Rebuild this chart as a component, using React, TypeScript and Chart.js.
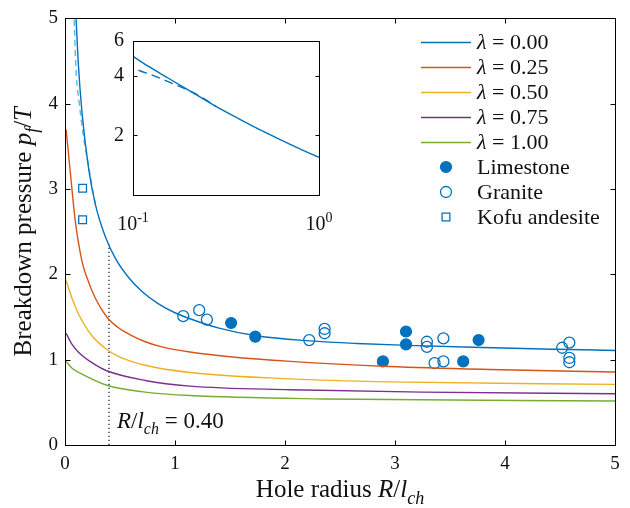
import React, { useEffect, useRef } from 'react';
import { Chart, registerables } from 'chart.js';
Chart.register(...registerables);

const FONT = "'Liberation Serif', 'DejaVu Serif', serif";

// ---- model curves ----
const xL000 = [0.1, 0.12, 0.155, 0.215, 0.276, 0.367, 0.457, 0.58, 0.7, 0.85, 1.0, 1.136, 1.4, 1.74, 2.23, 2.65, 3.11, 3.71, 4.47, 5.0];
const yL000 = [5.02, 4.49, 3.89, 3.24, 2.82, 2.44, 2.19, 1.96, 1.8, 1.655, 1.55, 1.48, 1.37, 1.28, 1.22, 1.19, 1.168, 1.145, 1.122, 1.108];
const xL025 = [0.01, 0.048, 0.094, 0.155, 0.2, 0.276, 0.38, 0.48, 0.58, 0.73, 0.88, 1.136, 1.5, 2.05, 2.95, 3.86, 5.0];
const yL025 = [3.7, 3.2, 2.62, 2.15, 1.96, 1.72, 1.5, 1.38, 1.3, 1.21, 1.15, 1.09, 1.035, 0.98, 0.92, 0.885, 0.855];
const xL050 = [0.01, 0.064, 0.125, 0.245, 0.38, 0.5, 0.73, 1.136, 2.05, 2.95, 5.0];
const yL050 = [1.93, 1.72, 1.53, 1.28, 1.12, 1.03, 0.935, 0.85, 0.775, 0.74, 0.71];
const xL075 = [0.01, 0.064, 0.125, 0.245, 0.38, 0.73, 1.136, 2.05, 3.25, 5.0];
const yL075 = [1.31, 1.18, 1.085, 0.965, 0.87, 0.756, 0.69, 0.648, 0.62, 0.6];
const xL100 = [0.01, 0.064, 0.155, 0.38, 0.73, 1.136, 2.35, 5.0];
const yL100 = [0.98, 0.9, 0.83, 0.7, 0.62, 0.58, 0.54, 0.515];
// dashed approximation near small radii
const xDash = [0.08, 0.1, 0.13, 0.17, 0.21, 0.25, 0.28];
const yDash = [5.1, 4.4, 4.0, 3.6, 3.3, 3.0, 2.8];

// ---- experiments ----
const xLime = [1.51, 1.73, 2.89, 3.1, 3.1, 3.62, 3.76];
const yLime = [1.43, 1.27, 0.98, 1.33, 1.18, 0.98, 1.23];
const xGran = [1.075, 1.22, 1.29, 2.22, 2.36, 2.36, 3.29, 3.29, 3.44, 3.36, 3.44, 4.52, 4.585, 4.585, 4.585];
const yGran = [1.51, 1.58, 1.47, 1.23, 1.36, 1.31, 1.21, 1.15, 1.25, 0.96, 0.98, 1.14, 1.2, 1.02, 0.97];
const xKofu = [0.16, 0.16];
const yKofu = [3.01, 2.64];

// critical radius marker
const xCrit = [0.4, 0.4];
const yCrit = [0, 2.35];

const curveLabels = ['0.00', '0.25', '0.50', '0.75', '1.00'];
const curveColors = ['#0072BD', '#D95319', '#EDB120', '#7E2F8E', '#77AC30'];
const markerLabels = ['Limestone', 'Granite', 'Kofu andesite'];
const xTicks = [0, 1, 2, 3, 4, 5];
const yTicks = [0, 1, 2, 3, 4, 5];
const insetYTicks = [2, 4, 6];
const insetXTicks = [0.1, 1];

const pts = (xs: number[], ys: number[]) => xs.map((x, i) => ({ x, y: ys[i] }));

type Run = { t: string; it?: boolean; sub?: boolean; sup?: boolean };
const fontFor = (r: Run, size: number) =>
  `${r.it ? 'italic ' : ''}${r.sub || r.sup ? Math.round(size * 0.7) : size}px ${FONT}`;
function drawRuns(ctx: CanvasRenderingContext2D, runs: Run[], x: number, y: number, size: number, align: 'left' | 'center' | 'right') {
  const widths = runs.map((r) => { ctx.font = fontFor(r, size); return ctx.measureText(r.t).width; });
  const total = widths.reduce((a, b) => a + b, 0);
  let cx = align === 'left' ? x : align === 'center' ? x - total / 2 : x - total;
  ctx.textAlign = 'left';
  ctx.textBaseline = 'alphabetic';
  runs.forEach((r, i) => {
    ctx.font = fontFor(r, size);
    const dy = r.sub ? size * 0.28 : r.sup ? -size * 0.42 : 0;
    ctx.fillText(r.t, cx, y + dy);
    cx += widths[i];
  });
}

const xTitle: Run[] = [{ t: 'Hole radius ' }, { t: 'R', it: true }, { t: '/' }, { t: 'l', it: true }, { t: 'ch', it: true, sub: true }];
const yTitle: Run[] = [{ t: 'Breakdown pressure ' }, { t: 'p', it: true }, { t: 'f', it: true, sub: true }, { t: '/' }, { t: 'T', it: true }];
const critText: Run[] = [{ t: 'R', it: true }, { t: '/' }, { t: 'l', it: true }, { t: 'ch', it: true, sub: true }, { t: ' = 0.40' }];

const mainDecor = {
  id: 'mainDecor',
  afterDraw(chart: any) {
    const { ctx, chartArea: a, scales } = chart;
    const xs = scales.x, ys = scales.y;
    ctx.save();
    ctx.strokeStyle = '#000';
    ctx.lineWidth = 1;
    const L = Math.round(a.left) + 0.5, R = Math.round(a.right) + 0.5, T = Math.round(a.top) + 0.5, B = Math.round(a.bottom) + 0.5;
    ctx.strokeRect(L, T, R - L, B - T);
    ctx.beginPath();
    xs.ticks.forEach((t: any) => {
      const p = Math.round(xs.getPixelForValue(t.value)) + 0.5;
      ctx.moveTo(p, B); ctx.lineTo(p, B - 5);
      ctx.moveTo(p, T); ctx.lineTo(p, T + 5);
    });
    ys.ticks.forEach((t: any) => {
      const p = Math.round(ys.getPixelForValue(t.value)) + 0.5;
      ctx.moveTo(L, p); ctx.lineTo(L + 5, p);
      ctx.moveTo(R, p); ctx.lineTo(R - 5, p);
    });
    ctx.stroke();
    ctx.fillStyle = '#111';
    drawRuns(ctx, xTitle, (a.left + a.right) / 2, 497, 25, 'center');
    drawRuns(ctx, critText, 117, 428, 23, 'left');
    ctx.save();
    ctx.translate(31, (a.top + a.bottom) / 2);
    ctx.rotate(-Math.PI / 2);
    drawRuns(ctx, yTitle, 0, 0, 25, 'center');
    ctx.restore();
    // legend
    const lx0 = 421, lx1 = 471, mx = 446, tx = 477;
    let ly = 42;
    chart.data.datasets.forEach((ds: any) => {
      if (!ds.inLegend) return;
      if (ds.showLine) {
        ctx.strokeStyle = ds.borderColor;
        ctx.lineWidth = ds.borderWidth;
        ctx.beginPath(); ctx.moveTo(lx0, ly + 0.5); ctx.lineTo(lx1, ly + 0.5); ctx.stroke();
        ctx.fillStyle = '#111';
        drawRuns(ctx, [{ t: 'λ', it: true }, { t: ds.label.slice(1) }], tx, ly + 7, 22, 'left');
      } else {
        ctx.strokeStyle = ds.borderColor;
        ctx.fillStyle = ds.backgroundColor;
        ctx.lineWidth = ds.borderWidth;
        ctx.beginPath();
        if (ds.pointStyle === 'rect') {
          const s = Math.SQRT1_2 * ds.pointRadius;
          ctx.rect(mx - s, ly - s, 2 * s, 2 * s);
        } else {
          ctx.arc(mx, ly, ds.pointRadius, 0, Math.PI * 2);
        }
        ctx.fill(); ctx.stroke();
        ctx.fillStyle = '#111';
        drawRuns(ctx, [{ t: ds.label }], tx, ly + 7, 22, 'left');
      }
      ly += 25;
    });
    ctx.restore();
  },
};

const insetDecor = {
  id: 'insetDecor',
  beforeDatasetsDraw(chart: any) {
    const { ctx, chartArea: a } = chart;
    ctx.save();
    ctx.fillStyle = '#fff';
    ctx.fillRect(a.left, a.top, a.right - a.left, a.bottom - a.top);
    ctx.restore();
  },
  afterDraw(chart: any) {
    const { ctx, chartArea: a, scales } = chart;
    const xs = scales.x, ys = scales.y;
    ctx.save();
    ctx.strokeStyle = '#000';
    ctx.lineWidth = 1;
    const L = Math.round(a.left) + 0.5, R = Math.round(a.right) + 0.5, T = Math.round(a.top) + 0.5, B = Math.round(a.bottom) + 0.5;
    ctx.strokeRect(L, T, R - L, B - T);
    ctx.beginPath();
    ys.ticks.forEach((t: any) => {
      const p = Math.round(ys.getPixelForValue(t.value)) + 0.5;
      ctx.moveTo(L, p); ctx.lineTo(L + 4, p);
      ctx.moveTo(R, p); ctx.lineTo(R - 4, p);
    });
    ctx.stroke();
    ctx.fillStyle = '#111';
    xs.ticks.forEach((t: any) => {
      const p = xs.getPixelForValue(t.value);
      const e = Math.round(Math.log10(t.value));
      drawRuns(ctx, [{ t: '10' }, { t: String(e), sup: true }], p, a.bottom + 35, 20, 'center');
    });
    ctx.restore();
  },
};

export default function App() {
  const mainRef = useRef<HTMLCanvasElement>(null);
  const insetRef = useRef<HTMLCanvasElement>(null);
  useEffect(() => {
    const xsC = [xL000, xL025, xL050, xL075, xL100];
    const ysC = [yL000, yL025, yL050, yL075, yL100];
    const curveSets = curveLabels.map((lab, i) => ({
      label: 'λ = ' + lab,
      data: pts(xsC[i], ysC[i]),
      showLine: true,
      borderColor: curveColors[i],
      backgroundColor: curveColors[i],
      borderWidth: 1.4,
      pointRadius: 0,
      cubicInterpolationMode: 'monotone',
      inLegend: true,
    }));
    const main = new Chart(mainRef.current!, {
      type: 'scatter',
      data: {
        datasets: [
          ...curveSets,
          { label: 'dash', data: pts(xDash, yDash), showLine: true, borderColor: '#4DBEEE', borderWidth: 1.4, borderDash: [6, 4], pointRadius: 0, cubicInterpolationMode: 'monotone' },
          { label: 'crit', data: pts(xCrit, yCrit), showLine: true, borderColor: '#222', borderWidth: 1.3, borderDash: [1.3, 2.7], pointRadius: 0 },
          { label: markerLabels[0], data: pts(xLime, yLime), showLine: false, pointStyle: 'circle', pointRadius: 5.5, borderColor: '#0072BD', backgroundColor: '#0072BD', borderWidth: 1.2, inLegend: true },
          { label: markerLabels[1], data: pts(xGran, yGran), showLine: false, pointStyle: 'circle', pointRadius: 5.5, borderColor: '#0072BD', backgroundColor: 'rgba(255,255,255,0)', borderWidth: 1.3, inLegend: true },
          { label: markerLabels[2], data: pts(xKofu, yKofu), showLine: false, pointStyle: 'rect', pointRadius: 5.5, borderColor: '#0072BD', backgroundColor: 'rgba(255,255,255,0)', borderWidth: 1.3, inLegend: true },
        ] as any,
      },
      options: {
        responsive: false,
        animation: false,
        events: [],
        layout: { padding: { left: 0, right: 15, top: 14, bottom: 0 } },
        plugins: { legend: { display: false }, tooltip: { enabled: false } },
        scales: {
          x: {
            type: 'linear', min: 0, max: 5,
            afterBuildTicks: (s: any) => { s.ticks = xTicks.map((v) => ({ value: v })); },
            afterFit: (s: any) => { s.height = 63; },
            grid: { display: false, drawTicks: false },
            border: { display: false },
            ticks: { padding: 8, font: { family: FONT, size: 19 }, color: '#111', maxRotation: 0 },
          },
          y: {
            type: 'linear', min: 0, max: 5,
            afterBuildTicks: (s: any) => { s.ticks = yTicks.map((v) => ({ value: v })); },
            afterFit: (s: any) => { s.width = 65; },
            grid: { display: false, drawTicks: false },
            border: { display: false },
            ticks: { padding: 7, font: { family: FONT, size: 19 }, color: '#111' },
          },
        },
      } as any,
      plugins: [mainDecor],
    });

    const inset = new Chart(insetRef.current!, {
      type: 'scatter',
      data: {
        datasets: [
          { label: 'λ = 0.00', data: pts(xL000, yL000), showLine: true, borderColor: '#0072BD', borderWidth: 1.4, pointRadius: 0, cubicInterpolationMode: 'monotone' },
          { label: 'dash', data: pts(xDash, yDash), showLine: true, borderColor: '#0072BD', borderWidth: 1.4, borderDash: [9, 5], pointRadius: 0, cubicInterpolationMode: 'monotone' },
        ] as any,
      },
      options: {
        responsive: false,
        animation: false,
        events: [],
        layout: { padding: { left: 0, right: 21, top: 13, bottom: 0 } },
        plugins: { legend: { display: false }, tooltip: { enabled: false } },
        scales: {
          x: {
            type: 'logarithmic', min: 0.1, max: 1,
            afterBuildTicks: (s: any) => { s.ticks = insetXTicks.map((v) => ({ value: v })); },
            afterFit: (s: any) => { s.height = 45; },
            grid: { display: false, drawTicks: false },
            border: { display: false },
            ticks: { display: false },
          },
          y: {
            type: 'logarithmic', min: 1, max: 6,
            afterBuildTicks: (s: any) => { s.ticks = insetYTicks.map((v) => ({ value: v })); },
            afterFit: (s: any) => { s.width = 43; },
            grid: { display: false, drawTicks: false },
            border: { display: false },
            ticks: { padding: 9, font: { family: FONT, size: 20 }, color: '#111', callback: (v: any) => String(v) },
          },
        },
      } as any,
      plugins: [insetDecor],
    });
    return () => { main.destroy(); inset.destroy(); };
  }, []);

  return (
    <div style={{ position: 'absolute', left: 0, top: 0, width: 630, height: 508, background: '#fff' }}>
      <canvas ref={mainRef} width={630} height={508} style={{ position: 'absolute', left: 0, top: 0, width: 630, height: 508 }} />
      <canvas ref={insetRef} width={250} height={220} style={{ position: 'absolute', left: 90, top: 20, width: 250, height: 220 }} />
    </div>
  );
}
